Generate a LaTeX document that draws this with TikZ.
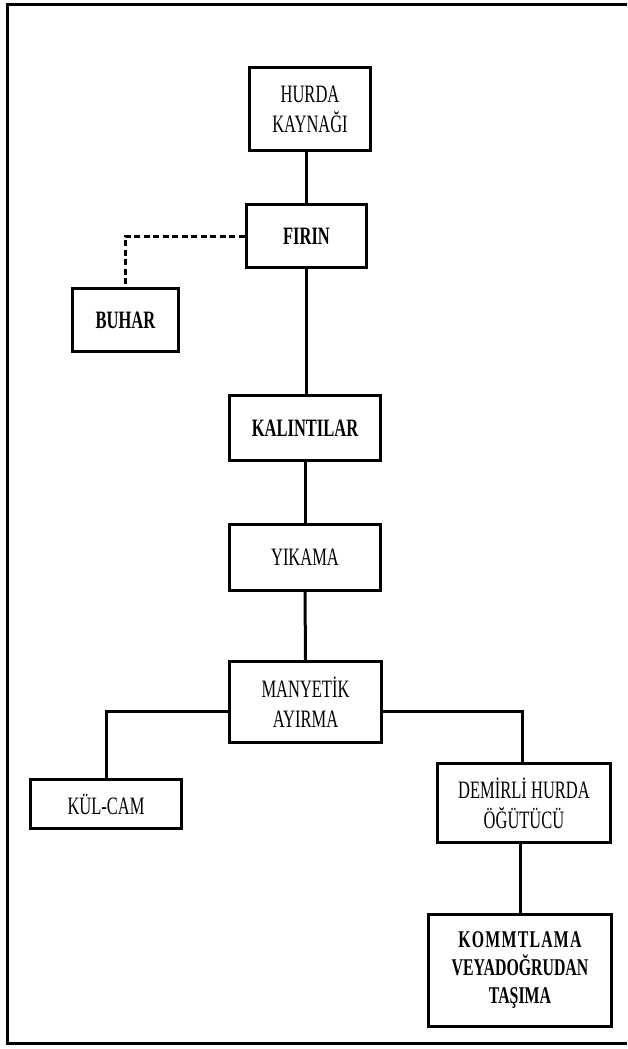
\documentclass[tikz,border=0pt]{standalone}
\usepackage{fontspec}
\setmainfont{Liberation Serif}
\newfontfamily\nfont[FakeStretch=0.66]{Liberation Serif}
\newfontfamily\kfont[FakeStretch=0.66]{Liberation Serif}
\begin{document}
\begin{tikzpicture}[x=1pt,y=-1pt,
  box/.style={draw,line width=3.4pt,inner sep=0pt,align=center,
    font=\nfont\fontsize{25}{30}\selectfont},
  bbox/.style={box,font=\nfont\bfseries\fontsize{25}{30}\selectfont},
  kbox/.style={box,font=\kfont\bfseries\fontsize{24}{28}\selectfont},
  link/.style={line width=3pt},
  dlink/.style={line width=3pt,dash pattern=on 6pt off 3.5pt},
  frame/.style={line width=3pt}]
\useasboundingbox (0,0) rectangle (627,1049);
\draw[frame] (627,5) -- (7,5) -- (7,1043) -- (627,1043);

\node[box,minimum width=121pt,minimum height=83pt] (hurda) at (310,109) {HURDA\\KAYNAĞI};
\node[bbox,minimum width=120pt,minimum height=63pt] (firin) at (306.5,236) {FIRIN};
\node[bbox,minimum width=106pt,minimum height=63pt] (buhar) at (125.5,320) {BUHAR};
\node[bbox,minimum width=151pt,minimum height=65pt] (kalin) at (305,428) {KALINTILAR};
\node[box,minimum width=151pt,minimum height=66pt] (yikama) at (305,557.5) {YIKAMA};
\node[box,minimum width=152pt,minimum height=81pt] (many) at (305.5,702) {MANYETİK\\AYIRMA};
\node[box,minimum width=151pt,minimum height=49pt] (kul) at (106,804) {KÜL-CAM};
\node[box,minimum width=173pt,minimum height=79pt] (demir) at (524,803) {DEMİRLİ HURDA\\ÖĞÜTÜCÜ};
\node[kbox,minimum width=183pt,minimum height=112pt] (komm) at (520,970.5)
  {{\addfontfeature{LetterSpace=5}KOMMTLAMA}\\VEYADOĞRUDAN\\TAŞIMA};

\draw[link] (firin.north |- hurda.south) -- (firin.north);
\draw[link] (firin.south) -- (firin.south |- kalin.north);
\draw[link] (kalin.south) -- (yikama.north);
\draw[link] (yikama.south) -- (many.north);
\draw[dlink] (firin.west) -| (buhar.north);
\draw[link] ([yshift=-9pt]many.west) -| (kul.north);
\draw[link] ([yshift=-9pt]many.east) -| ([xshift=-2pt]demir.north);
\draw[link] (komm.north |- demir.south) -- (komm.north);
\end{tikzpicture}
\end{document}
